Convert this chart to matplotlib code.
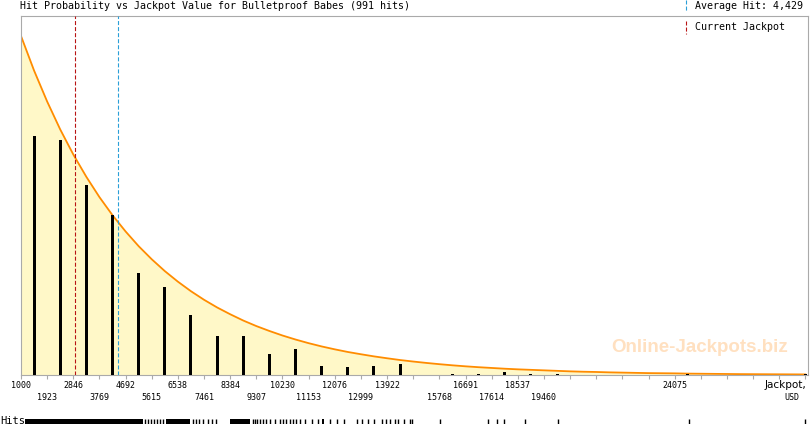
import numpy as np
import matplotlib.pyplot as plt
from matplotlib.lines import Line2D

plt.rcParams['lines.scale_dashes'] = False

W, H = 810, 425

title = 'Hit Probability vs Jackpot Value for Bulletproof Babes (991 hits)'
avg_hit = 4429
current_jackpot = 2900
bin_step = 923

# bin edges (USD) = x ticks
tick_values = [1000, 1923, 2846, 3769, 4692, 5615, 6538, 7461, 8384, 9307,
               10230, 11153, 12076, 12999, 13922, 14845, 15768, 16691, 17614,
               18537, 19460, 20383, 21306, 22229, 23152, 24075, 24998, 25921,
               26844, 27767, 28690]
label_values = [1000, 1923, 2846, 3769, 4692, 5615, 6538, 7461, 8384, 9307,
                10230, 11153, 12076, 12999, 13922, 15768, 16691, 17614,
                18537, 19460, 24075]

# hits per bin
bin_hits = [190, 187, 151, 127, 81, 70, 48, 31, 31, 17, 21, 7, 6, 7, 9, 0,
            1, 1, 2, 1, 1, 0, 0, 0, 0, 1, 0, 0, 0, 0, 1]

# probability curve in hit units, read every half bin from 1000 to 28690
curve_hits = [269.5, 242.0, 217.4, 195.2, 175.3, 157.5, 141.4, 127.0, 114.1,
              102.4, 92.0, 82.6, 74.2, 66.6, 59.8, 53.7, 48.3, 43.3, 38.9,
              35.0, 31.4, 28.2, 25.3, 22.7, 20.4, 18.3, 16.5, 14.8, 13.3,
              11.9, 10.7, 9.6, 8.6, 7.7, 6.9, 6.2, 5.6, 5.0, 4.5, 4.1, 3.7,
              3.3, 2.9, 2.6, 2.4, 2.1, 1.9, 1.7, 1.5, 1.4, 1.3, 1.1, 1.0,
              0.9, 0.8, 0.7, 0.65, 0.6, 0.55, 0.5, 0.45]

# rug of individual hits (USD)
rug_spans = [(1141, 5307), (6119, 6966), (8378, 9084), (11625, 11696)]
rug_single = [5377, 5483, 5589, 5695, 5801, 5907, 6013, 7072, 7178, 7283,
              7425, 7601, 7742, 7884, 9190, 9260, 9331, 9437, 9543, 9649,
              9790, 9966, 10143, 10249, 10355, 10496, 10602, 10708, 10849,
              11025, 11272, 11484, 11908, 12155, 12402, 12861, 13037, 13249,
              13461, 13743, 13885, 14026, 14202, 14308, 14520, 14732, 14802,
              15790, 17485, 17803, 18050, 18791, 19956, 24580, 28690]

mono = 'DejaVu Sans Mono'
gray = '#aaaaaa'
red = '#b81414'
blue = '#2a9fd8'
orange = '#ff8c00'
fill = '#fff8c8'

xlim = (982, 28781)

fig = plt.figure(figsize=(W / 100, H / 100), dpi=100)
ax = fig.add_axes([20.5 / W, 50 / H, 787.5 / W, 359 / H])
ax.set_xlim(*xlim)
ax.set_ylim(0, 285.4)

curve_usd = np.linspace(tick_values[0], tick_values[-1], len(curve_hits))
ax.fill_between(curve_usd, curve_hits, color=fill, lw=0, zorder=1)
ax.plot(curve_usd, curve_hits, color=orange, lw=1.3, zorder=2)

centers = np.minimum(np.array(tick_values) + bin_step / 2, tick_values[-1])
ax.bar(centers, bin_hits, width=106, color='black', lw=0, zorder=3)

ax.axvline(current_jackpot, color=red, lw=0.8, dashes=(2.9, 1.45), zorder=4)
ax.axvline(avg_hit, color=blue, lw=0.8, dashes=(2.9, 1.45), zorder=4)

fig.text(700 / W, 1 - 347 / H, 'Online-Jackpots.biz', fontsize=13.5,
         family='Liberation Sans', weight='bold', color='#ffe0c0',
         ha='center', va='center', zorder=0.5)

for s in ax.spines.values():
    s.set_color(gray)
    s.set_linewidth(0.8)
ax.set_yticks([])
ax.set_xticks(tick_values)
ax.set_xticklabels([])
ax.tick_params(axis='x', length=3, width=0.8, color=gray)

xt = ax.get_xaxis_transform()
for i, v in enumerate(label_values):
    ypx = 385 if i % 2 == 0 else 398
    ax.text(v, (375 - ypx) / 359, str(v), transform=xt, family=mono,
            fontsize=6, ha='center', va='center')

fig.text(806 / W, 1 - 385 / H, 'Jackpot,', family='DejaVu Sans',
         fontsize=7.5, ha='right', va='center')
fig.text(799 / W, 1 - 398 / H, 'USD', family=mono, fontsize=6,
         ha='right', va='center')

fig.text(20 / W, 1 - 6 / H, title, family=mono, fontsize=7.2,
         ha='left', va='center')
fig.text(695 / W, 1 - 6 / H, 'Average Hit: 4,429', family=mono,
         fontsize=7.2, ha='left', va='center')
fig.text(695 / W, 1 - 27 / H, 'Current Jackpot', family=mono,
         fontsize=7.2, ha='left', va='center')
fig.add_artist(Line2D([686 / W] * 2, [1, 1 - 11 / H], transform=fig.transFigure,
                      color=blue, lw=0.8, dashes=(2.9, 1.45)))
fig.add_artist(Line2D([686 / W] * 2, [1 - 21 / H, 1 - 34 / H],
                      transform=fig.transFigure, color=red, lw=0.8,
                      dashes=(2.9, 1.45)))

# hits rug
rax = fig.add_axes([20.5 / W, (H - 423.5) / H, 787.5 / W, 5 / H])
rax.set_xlim(*xlim)
rax.set_ylim(0, 1)
rax.axis('off')
for a, b in rug_spans:
    rax.axvspan(a, b, color='black', lw=0)
rax.vlines(rug_single, 0, 1, color='black', lw=1.0)
fig.text(0, 1 - 421 / H, 'Hits', family=mono, fontsize=7.5,
         ha='left', va='center')

fig.savefig('out.png', dpi=100)
